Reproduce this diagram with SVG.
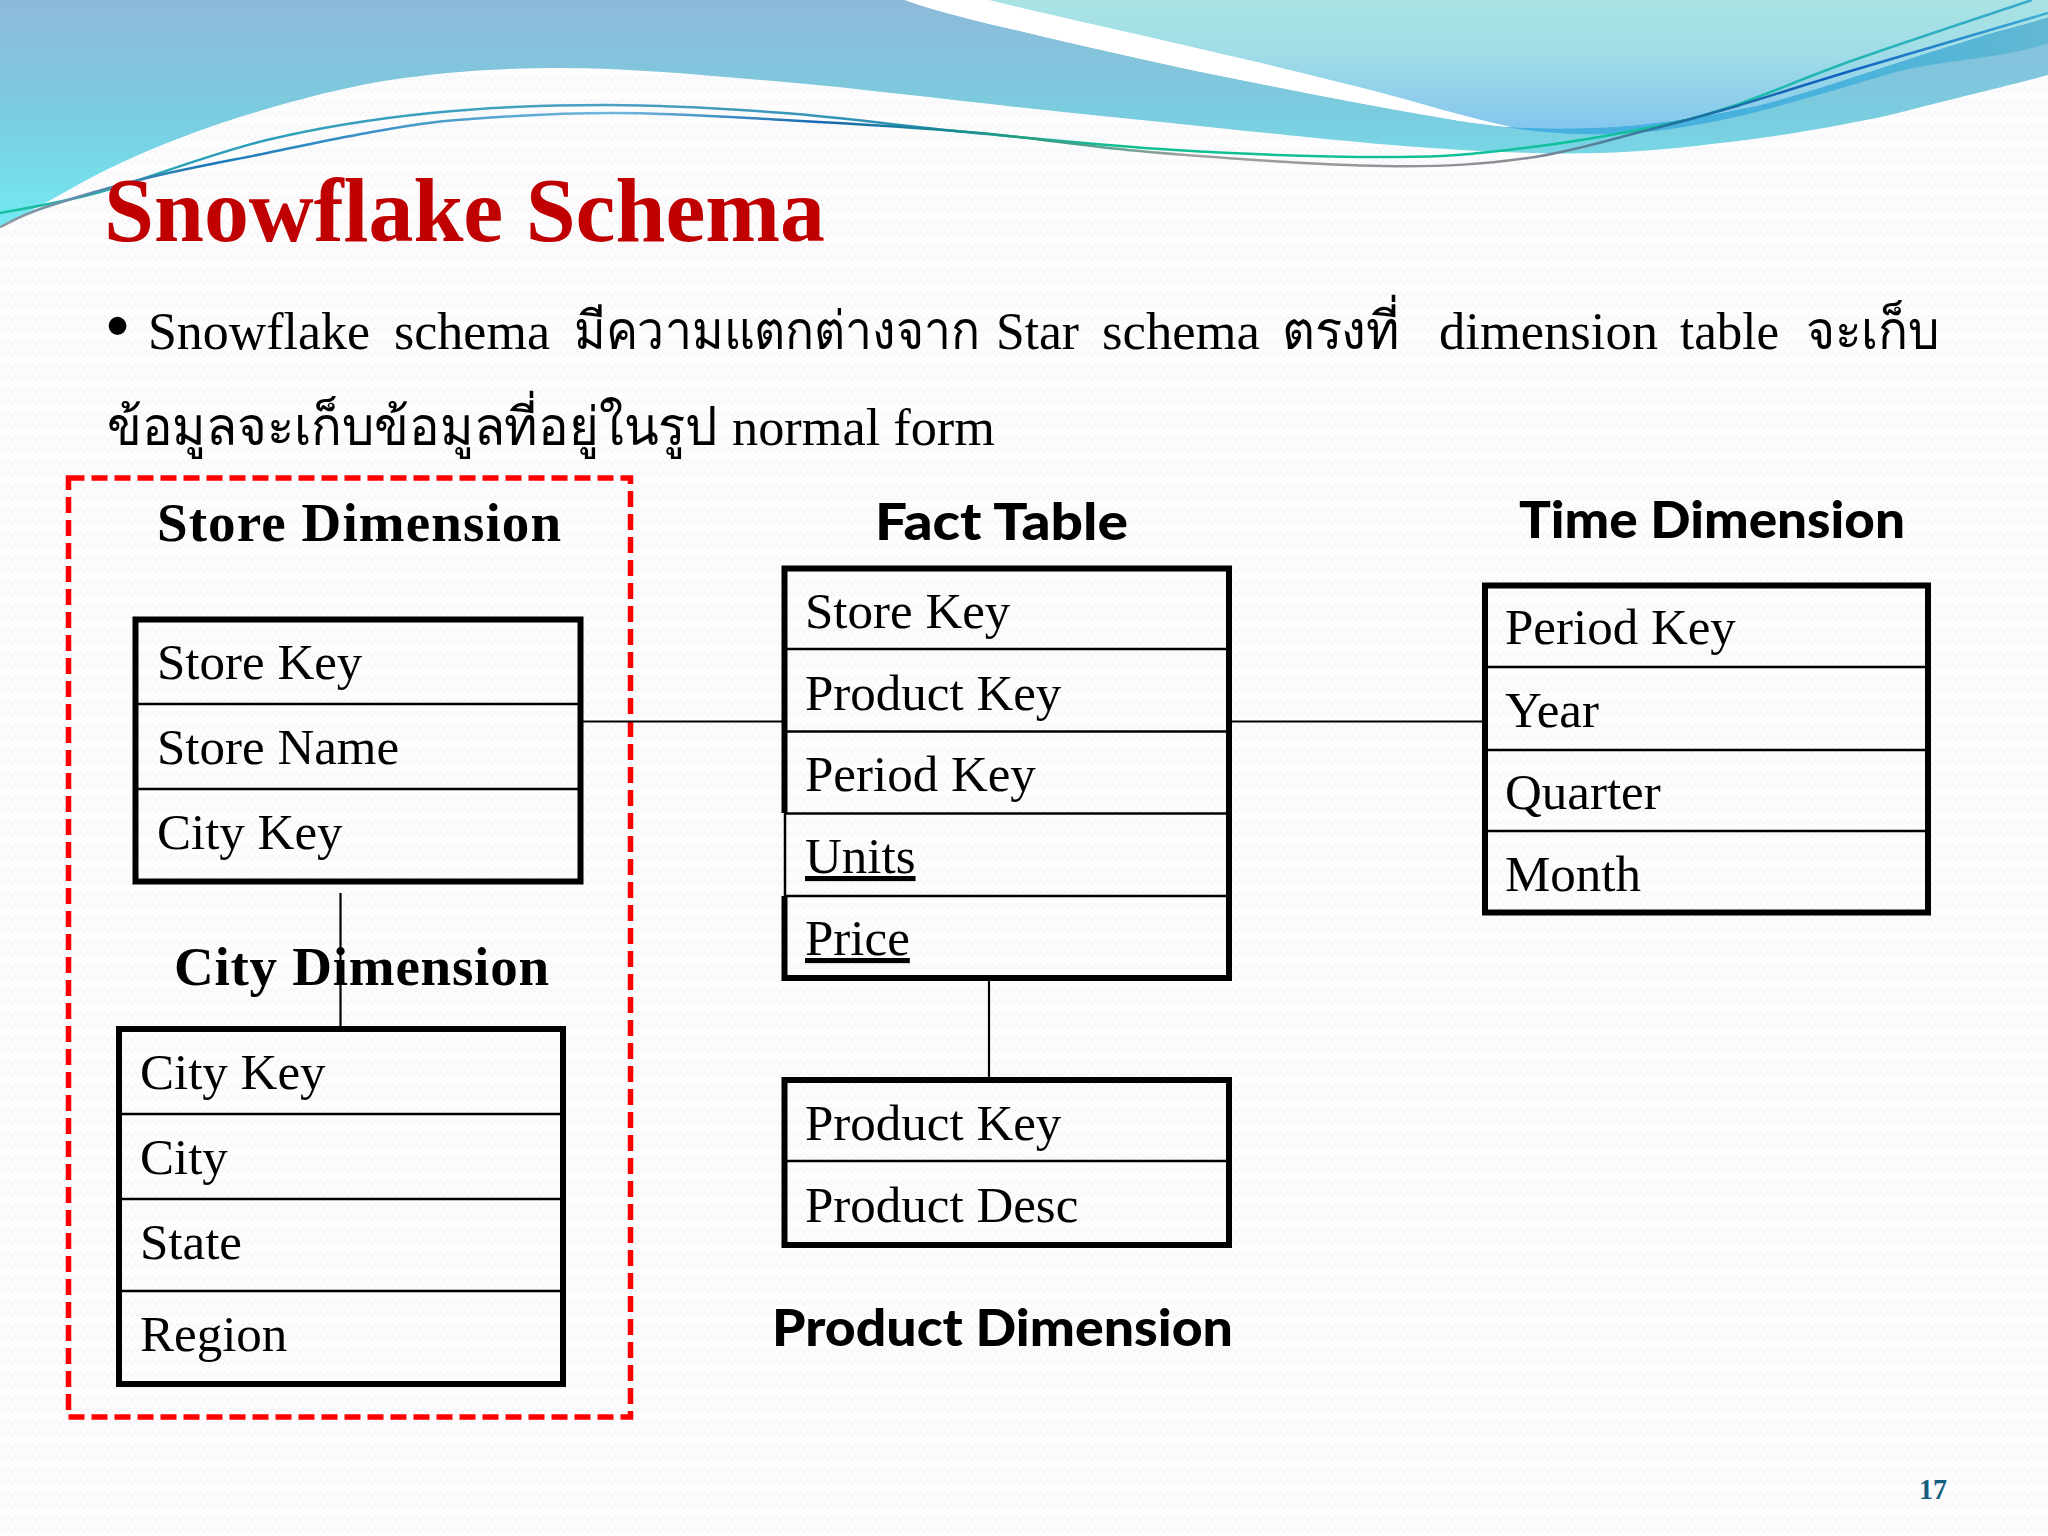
<svg xmlns="http://www.w3.org/2000/svg" width="2048" height="1536" viewBox="0 0 2048 1536">
<style>
.t{font-family:"Liberation Serif","Times New Roman",serif;font-size:51px;fill:#000}
.u{text-decoration:underline}
.h{font-family:"Liberation Serif",serif;font-size:55px;font-weight:700;fill:#000}
.g{font-family:Lato,"Liberation Sans",sans-serif;font-size:52px;font-weight:900;fill:#000}
.b{font-family:"Liberation Serif",serif;font-size:52px;fill:#000}
.th{font-family:"Liberation Serif",serif;font-size:53px;fill:#000}
.box{fill:none;stroke:#000;stroke-width:6}
.div{stroke:#000;stroke-width:2.5;fill:none}
.con{stroke:#000;stroke-width:2.2;fill:none}
</style>
<defs>
<pattern id="zz" width="12" height="12" patternUnits="userSpaceOnUse"><path d="M0 9L3 3L6 9L9 3L12 9" fill="none" stroke="#f0f0f6" stroke-width="0.8"/></pattern>
<linearGradient id="ga" x1="0" y1="0" x2="0" y2="230" gradientUnits="userSpaceOnUse"><stop offset="0" stop-color="#8dbad8"/><stop offset=".5" stop-color="#7accdf"/><stop offset="1" stop-color="#72ebf2"/></linearGradient>
<linearGradient id="gp" x1="0" y1="0" x2="0" y2="130" gradientUnits="userSpaceOnUse"><stop offset="0" stop-color="#a9e3e4"/><stop offset=".4" stop-color="#a0dde6"/><stop offset="1" stop-color="#84c6ee"/></linearGradient>
<linearGradient id="gb" x1="1511" y1="0" x2="2048" y2="0" gradientUnits="userSpaceOnUse"><stop offset="0" stop-color="#45b0e0"/><stop offset=".6" stop-color="#48b2dc"/><stop offset="1" stop-color="#62b8d2"/></linearGradient>
<linearGradient id="l1" x1="0" y1="0" x2="2048" y2="0" gradientUnits="userSpaceOnUse"><stop offset="0" stop-color="#18c0a0"/><stop offset=".1" stop-color="#2a9fb8"/><stop offset=".3" stop-color="#4aa0c4"/><stop offset=".45" stop-color="#2a8fb0"/><stop offset=".55" stop-color="#10c090"/><stop offset=".82" stop-color="#10c0a0"/><stop offset="1" stop-color="#3ea8d0"/></linearGradient>
<linearGradient id="l2" x1="0" y1="0" x2="2048" y2="0" gradientUnits="userSpaceOnUse"><stop offset="0" stop-color="#909aa0"/><stop offset=".1" stop-color="#1878b8"/><stop offset=".3" stop-color="#70b8dc"/><stop offset=".4" stop-color="#1668b0"/><stop offset=".5" stop-color="#20a080"/><stop offset=".58" stop-color="#a0a0a0"/><stop offset=".74" stop-color="#8a8f94"/><stop offset=".82" stop-color="#2070a0"/><stop offset=".9" stop-color="#1060c0"/><stop offset="1" stop-color="#40b0d8"/></linearGradient>
</defs>
<rect width="2048" height="1536" fill="#fdfdfe"/>
<rect width="2048" height="1536" fill="url(#zz)"/>
<g id="waves">
<path d="M0 228C8 224 30 211 47 202C64 193 80 183 100 173C120 163 142 153 167 143C193 133 216 124 253 113C290 102 339 88 390 80C442 72 496 68 562 68C628 68 704 75 784 82C865 89 958 101 1045 110C1132 119 1236 130 1306 137C1376 144 1414 147 1463 150C1512 153 1554 154 1598 153C1643 152 1687 147 1730 142C1773 137 1821 129 1855 122C1890 116 1905 111 1937 103C1969 95 2030 80 2048 75V20L1700 120L1515 128C1490 125 1465 122 1437 117C1372 106 1306 93 1241 80C1175 67 1110 52 1045 37C1000 26 950 16 905 0H0Z" fill="url(#ga)"/>
<path d="M905 0H989C1050 15 1115 29 1175 43C1240 58 1305 73 1371 90C1420 103 1465 117 1511 127L1515 128C1490 125 1465 122 1437 117C1372 106 1306 93 1241 80C1175 67 1110 52 1045 37C1000 26 950 16 905 0Z" fill="#fff"/>
<path d="M1505 127C1530 131 1560 134 1582 134C1610 135 1640 133 1664 130C1700 125 1735 118 1772 108C1815 96 1855 84 1896 72C1950 58 2000 60 2048 43V17C2020 26 2000 30 1978 37C1950 46 1925 53 1896 63C1855 77 1815 90 1772 102C1745 109 1720 113 1689 118C1660 123 1625 127 1590 128Z" fill="url(#gb)"/>
<path d="M989 0H2048V17C2020 26 2000 30 1978 37C1950 46 1925 53 1896 63C1855 77 1815 90 1772 102C1745 109 1720 113 1689 118C1660 123 1625 127 1590 128C1565 129 1535 129 1511 127C1465 117 1420 103 1371 90C1305 73 1240 58 1175 43C1115 29 1050 15 989 0Z" fill="url(#gp)"/>
<path d="M0 213C17 209.5 55.5 204.2 100 192C144.5 179.8 211.8 153.2 267 140C322.2 126.8 374.3 118.8 431 113C487.7 107.2 548.2 105 607 105C665.8 105 724.2 108.5 784 113C843.8 117.5 900.8 125.8 966 132C1031.2 138.2 1103.2 145.8 1175 150C1246.8 154.2 1338.8 157.3 1397 157C1455.2 156.7 1482.2 152.8 1524 148C1565.8 143.2 1613.3 134.8 1648 128C1682.7 121.2 1695.7 118.3 1730 107C1764.3 95.7 1803.7 77.8 1854 60C1904.3 42.2 2002.3 10 2032 0" fill="none" stroke="url(#l1)" stroke-width="2.5"/>
<path d="M0 227C7 224 18.5 216.2 43 208C67.5 199.8 109.7 187.2 147 178C184.3 168.8 230.3 160.5 267 153C303.7 145.5 335.3 138.5 367 133C398.7 127.5 415.8 123.3 457 120C498.2 116.7 559.5 113 614 113C668.5 113 723 116.7 784 120C845 123.3 919.2 127.7 980 133C1040.8 138.3 1081.7 146.5 1149 152C1216.3 157.5 1320.8 165 1384 166C1447.2 167 1484 164 1528 158C1572 152 1614.3 138.3 1648 130C1681.7 121.7 1695.7 118 1730 108C1764.3 98 1801 85.8 1854 70C1886.3 60.5 2015.7 22.5 2048 13" fill="none" stroke="url(#l2)" stroke-width="2.5"/>
</g>
<g id="title">
<text x="104" y="241" font-family="Liberation Serif,serif" font-size="90" font-weight="700" fill="#c00000" textLength="721" lengthAdjust="spacingAndGlyphs">Snowflake Schema</text>
</g>
<g id="body">
<text x="106" y="348" font-family="Liberation Sans,sans-serif" font-size="66" fill="#000">•</text>
<text class="b" x="148" y="349" textLength="222" lengthAdjust="spacingAndGlyphs">Snowflake</text>
<text class="b" x="394" y="349" textLength="156" lengthAdjust="spacingAndGlyphs">schema</text>
<text class="th" x="574" y="349" textLength="406" lengthAdjust="spacingAndGlyphs">มีความแตกต่างจาก</text>
<text class="b" x="996" y="349" textLength="83" lengthAdjust="spacingAndGlyphs">Star</text>
<text class="b" x="1102" y="349" textLength="158" lengthAdjust="spacingAndGlyphs">schema</text>
<text class="th" x="1282" y="349" textLength="118" lengthAdjust="spacingAndGlyphs">ตรงที่</text>
<text class="b" x="1439" y="349" textLength="219" lengthAdjust="spacingAndGlyphs">dimension</text>
<text class="b" x="1680" y="349" textLength="99" lengthAdjust="spacingAndGlyphs">table</text>
<text class="th" x="1806" y="349" textLength="134" lengthAdjust="spacingAndGlyphs">จะเก็บ</text>
<text class="th" x="107" y="445" textLength="611" lengthAdjust="spacingAndGlyphs">ข้อมูลจะเก็บข้อมูลที่อยู่ในรูป</text>
<text class="b" x="732" y="445" textLength="263" lengthAdjust="spacingAndGlyphs">normal form</text>
</g>
<rect id="highlight" x="68.5" y="478" width="562" height="939" fill="none" stroke="#ff0000" stroke-width="5.5" stroke-dasharray="16 7"/>
<g id="connectors">
<path class="con" d="M581 721.5H784"/>
<path class="con" d="M1230 721.5H1485"/>
<path class="con" d="M989 978V1080"/>
<path class="con" d="M340.5 893V1029"/>
</g>
<g id="store-dimension">
<text class="h" x="157" y="541" textLength="404">Store Dimension</text>
<rect class="box" x="135.5" y="619.5" width="445" height="262"/>
<path class="div" d="M136 704H580M136 789H580"/>
<text class="t" x="157" y="679">Store Key</text>
<text class="t" x="157" y="764">Store Name</text>
<text class="t" x="157" y="849">City Key</text>
</g>
<g id="city-dimension">
<text class="h" x="174" y="985" textLength="375">City Dimension</text>
<rect class="box" x="119" y="1029" width="444" height="355"/>
<path class="div" d="M119 1114H563M119 1199H563M119 1291H563"/>
<text class="t" x="140" y="1089">City Key</text>
<text class="t" x="140" y="1174">City</text>
<text class="t" x="140" y="1259">State</text>
<text class="t" x="140" y="1351">Region</text>
</g>
<g id="fact-table">
<text class="g" x="875" y="540" textLength="253" lengthAdjust="spacingAndGlyphs">Fact Table</text>
<path class="box" d="M784.5 813V568.5H1229V978H784.5V896"/>
<path class="div" d="M785 813V896"/>
<path class="div" d="M785 649H1229M785 731.5H1229M785 813.5H1229M785 896H1229"/>
<text class="t" x="805" y="628">Store Key</text>
<text class="t" x="805" y="710">Product Key</text>
<text class="t" x="805" y="791">Period Key</text>
<text class="t u" x="805" y="873">Units</text>
<text class="t u" x="805" y="955">Price</text>
</g>
<g id="time-dimension">
<text class="g" x="1519" y="538" textLength="386" lengthAdjust="spacingAndGlyphs">Time Dimension</text>
<rect class="box" x="1485" y="585.5" width="443" height="327"/>
<path class="div" d="M1485 667H1928M1485 750H1928M1485 831H1928"/>
<text class="t" x="1505" y="644">Period Key</text>
<text class="t" x="1505" y="727">Year</text>
<text class="t" x="1505" y="809">Quarter</text>
<text class="t" x="1505" y="891">Month</text>
</g>
<g id="product-dimension">
<rect class="box" x="784.5" y="1080" width="444.5" height="165"/>
<path class="div" d="M785 1161H1229"/>
<text class="t" x="805" y="1140">Product Key</text>
<text class="t" x="805" y="1222">Product Desc</text>
<text class="g" x="772" y="1346" textLength="461" lengthAdjust="spacingAndGlyphs">Product Dimension</text>
</g>
<g id="page-number">
<text x="1919" y="1499" font-family="Liberation Serif,serif" font-size="30" font-weight="700" fill="#135e7c" textLength="28" lengthAdjust="spacingAndGlyphs">17</text>
</g>
</svg>
